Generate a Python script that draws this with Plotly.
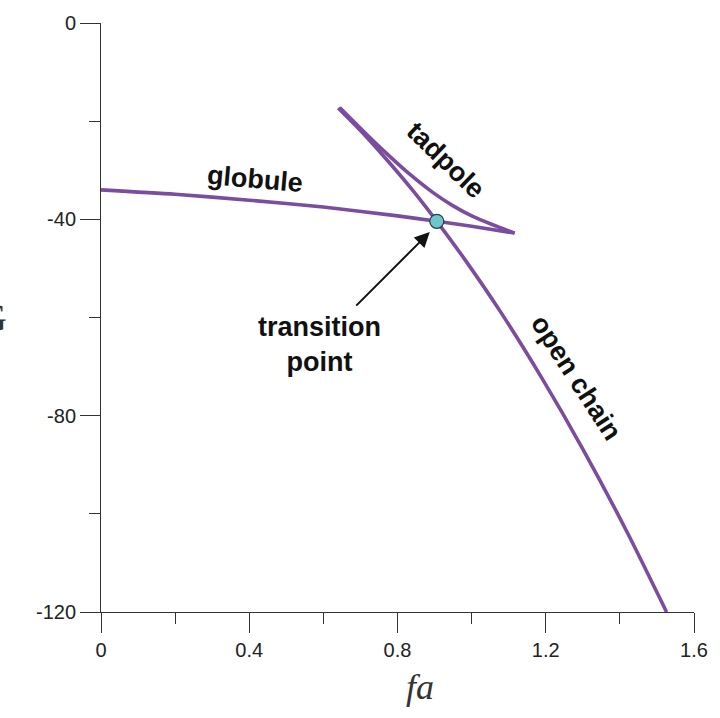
import plotly.graph_objects as go

# Data
globule_x = [0.0, 0.2, 0.4, 0.6, 0.8, 0.906, 1.0, 1.116]
globule_y = [-34.0, -34.9, -36.1, -37.5, -39.3, -40.4, -41.4, -42.8]

open_x = [0.64, 0.70, 0.76, 0.84, 0.906, 0.98, 1.075, 1.19, 1.30, 1.42, 1.526]
open_y = [-17.3, -21.9, -26.9, -34.0, -40.4, -48.0, -58.5, -72.4, -86.8, -103.8, -120.0]

tad_x = [0.644, 0.717, 0.771, 0.833, 0.895, 0.949, 1.003, 1.057, 1.116]
tad_y = [-17.2, -22.7, -26.6, -30.8, -34.5, -37.2, -39.4, -41.1, -42.8]

trans_x = [0.906]
trans_y = [-40.4]

x_ticks = [0, 0.4, 0.8, 1.2, 1.6]
y_ticks = [0, -40, -80, -120]

purple = "#7a4d9e"
fig = go.Figure()
for xs, ys in [(globule_x, globule_y), (open_x, open_y), (tad_x, tad_y)]:
    fig.add_trace(go.Scatter(x=xs, y=ys, mode="lines",
                             line=dict(color=purple, width=3.6, shape="spline", smoothing=0.7),
                             showlegend=False, hoverinfo="skip"))
fig.add_trace(go.Scatter(x=trans_x, y=trans_y, mode="markers",
                         marker=dict(size=14, color="#6cc6cc", line=dict(color="#2a3a40", width=1.2)),
                         showlegend=False))

lab_font = dict(family="Arial, Liberation Sans, sans-serif", size=27, color="#111")
ann = [
    dict(x=0.415, y=-31.8, text="<b>globule</b>", textangle=5),
    dict(x=0.930, y=-27.9, text="<b>tadpole</b>", textangle=44),
    dict(x=1.283, y=-72.3, text="<b>open chain</b>", textangle=57),
    dict(x=0.590, y=-65.5, text="<b>transition<br>point</b>", textangle=0),
]
for a in ann:
    fig.add_annotation(x=a["x"], y=a["y"], xref="x", yref="y", text=a["text"],
                       textangle=a["textangle"], showarrow=False, font=lab_font,
                       xanchor="center", yanchor="middle")

fig.add_annotation(x=0.887, y=-42.6, xref="x", yref="y", text="", showarrow=True,
                   ax=-75, ay=75, arrowhead=2, arrowsize=1.5, arrowwidth=2, arrowcolor="#111")

fig.add_annotation(x=0.86, y=-0.128, xref="x", yref="paper", text="<i>fa</i>", showarrow=False,
                   font=dict(family="Times New Roman, Liberation Serif, serif", size=36, color="#333"),
                   xanchor="center", yanchor="middle")
fig.add_annotation(x=-0.155, y=0.5, xref="paper", yref="paper", text="G", showarrow=False,
                   font=dict(family="Times New Roman, Liberation Serif, serif", size=40, color="#333"),
                   xanchor="right", yanchor="middle")

axis_common = dict(showgrid=False, zeroline=False, showline=True, linecolor="#333", linewidth=1,
                   ticks="outside", ticklen=20, tickwidth=1, tickcolor="#333",
                   tickfont=dict(family="Arial, Liberation Sans, sans-serif", size=20, color="#222"),
                   mirror=False)
fig.update_xaxes(range=[0, 1.6], tickvals=x_ticks, ticktext=["0", "0.4", "0.8", "1.2", "1.6"],
                 minor=dict(ticks="outside", ticklen=11, tickvals=[0.2, 0.6, 1.0, 1.4], tickcolor="#333"),
                 **axis_common)
fig.update_yaxes(range=[-120, 0], tickvals=y_ticks, ticktext=["0", "-40", "-80", "-120"],
                 minor=dict(ticks="outside", ticklen=11, tickvals=[-20, -60, -100], tickcolor="#333"),
                 **axis_common)

fig.update_layout(width=720, height=718, margin=dict(l=101, r=25, t=16, b=106),
                  plot_bgcolor="white", paper_bgcolor="white")
fig.write_html("out.html")
